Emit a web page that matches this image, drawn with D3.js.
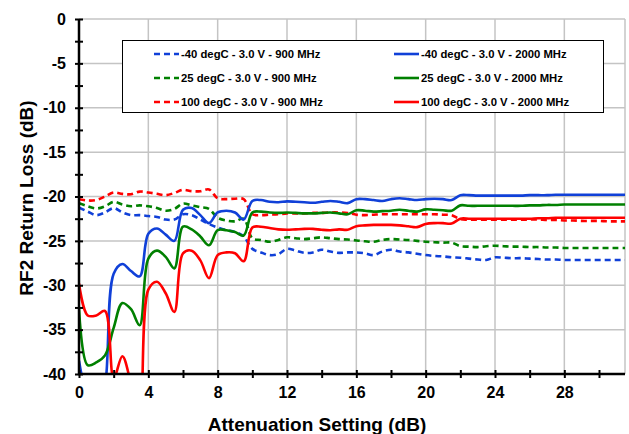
<!DOCTYPE html>
<html>
<head>
<meta charset="utf-8">
<script src="https://cdn.jsdelivr.net/npm/d3@7"></script>
<style>
  html, body { margin: 0; padding: 0; background: #fff; }
  svg { display: block; font-family: "Liberation Sans", Arial, sans-serif; font-weight: bold; }
</style>
</head>
<body>
<svg id="chart" width="629" height="434"></svg>
<script>
// ---- data ----
const attenuation = [0,0.5,1,1.5,2,2.5,3,3.5,4,4.5,5,5.5,6,6.5,7,7.5,8,8.5,9,9.5,
  10,10.5,11,11.5,12,12.5,13,13.5,14,14.5,15,15.5,16,16.5,17,17.5,18,18.5,19,19.5,
  20,20.5,21,21.5,22,22.5,23,23.5,24,24.5,25,25.5,26,26.5,27,27.5,28,28.5,29,29.5,
  30,30.5,31,31.5];

const m40_900 = [-21.25,-21.7,-22.1,-21.8,-21.3,-21.8,-22.1,-22.1,-22.2,-22.3,-22.6,-22.6,-22.0,-22.1,-22.6,-23.1,-23.5,-23.8,-24.0,-24.5,
  -25.9,-26.3,-26.6,-26.5,-25.9,-26.1,-26.35,-26.3,-26.0,-26.2,-26.35,-26.3,
  -26.3,-26.4,-26.6,-26.2,-26.0,-26.2,-26.3,-26.45,-26.6,-26.7,-26.75,-26.85,
  -26.9,-27.0,-27.1,-27.15,-26.85,-26.9,-26.95,-26.95,-27.0,-27.05,-27.1,-27.1,
  -27.15,-27.15,-27.15,-27.15,-27.15,-27.15,-27.15,-27.15];
const m40_2000 = [-38.5,-43,-45,-41.5,-28.7,-27.6,-28.4,-29.0,-24.2,-23.6,-24.3,-25.0,-21.5,-21.3,-22.1,-23.0,-21.8,-21.6,-21.8,-22.6,
  -20.5,-20.4,-20.6,-20.65,-20.55,-20.6,-20.65,-20.7,-20.6,-20.5,-20.6,-20.75,
  -20.3,-20.3,-20.4,-20.5,-20.3,-20.2,-20.3,-20.4,-20.3,-20.25,-20.3,-20.4,
  -19.85,-19.85,-19.9,-19.9,-19.9,-19.9,-19.9,-19.9,-19.85,-19.85,-19.85,-19.8,
  -19.8,-19.8,-19.8,-19.8,-19.8,-19.8,-19.8,-19.8];
const p25_900 = [-20.75,-21.1,-21.35,-21.1,-20.6,-20.9,-21.1,-21.0,-21.1,-21.3,-21.6,-21.4,-20.8,-21.0,-21.2,-21.4,-22.4,-22.7,-22.8,-22.5,
  -24.7,-24.9,-25.1,-24.9,-24.6,-24.7,-24.8,-24.7,-24.6,-24.7,-24.8,-24.85,
  -24.95,-25.05,-25.1,-24.9,-24.8,-24.85,-24.9,-25.0,-25.1,-25.15,-25.2,-25.2,
  -25.6,-25.65,-25.7,-25.6,-25.55,-25.6,-25.65,-25.65,-25.7,-25.7,-25.75,-25.75,
  -25.8,-25.8,-25.8,-25.8,-25.8,-25.8,-25.8,-25.8];
const p25_2000 = [-32.6,-39.0,-38.7,-37.9,-34.8,-32.0,-32.7,-34.5,-27.0,-26.1,-26.8,-28.1,-23.4,-23.7,-24.5,-25.5,-23.8,-23.8,-24.0,-24.4,
  -21.8,-21.7,-21.8,-21.85,-21.8,-21.85,-21.9,-21.9,-21.85,-21.8,-21.9,-22.0,
  -21.55,-21.6,-21.7,-21.65,-21.6,-21.5,-21.6,-21.7,-21.45,-21.5,-21.55,-21.6,
  -21.0,-21.05,-21.05,-21.05,-21.05,-21.05,-21.05,-21.05,-21.0,-21.0,-20.95,-20.95,
  -20.9,-20.9,-20.9,-20.9,-20.9,-20.9,-20.9,-20.9];
const p100_900 = [-20.3,-20.45,-20.4,-20.0,-19.55,-19.7,-19.75,-19.45,-19.55,-19.7,-19.85,-19.6,-19.25,-19.4,-19.4,-19.2,-20.2,-20.3,-20.25,-20.3,
  -22.0,-22.1,-22.05,-22.0,-21.9,-21.9,-21.9,-21.85,-21.85,-21.8,-21.8,-21.85,
  -22.05,-22.1,-22.05,-22.0,-22.0,-22.0,-22.0,-22.0,-22.0,-22.0,-22.05,-22.1,
  -22.55,-22.6,-22.6,-22.6,-22.6,-22.6,-22.6,-22.6,-22.6,-22.6,-22.65,-22.65,
  -22.7,-22.7,-22.75,-22.75,-22.75,-22.8,-22.8,-22.8];
const p100_2000 = [-29.8,-33.4,-33.4,-32.9,-40.5,-38.0,-41,-44,-30.5,-29.6,-30.9,-33.0,-26.4,-26.1,-27.2,-29.2,-26.6,-26.3,-26.4,-27.3,
  -23.5,-23.4,-23.55,-23.7,-23.75,-23.7,-23.65,-23.65,-23.75,-23.8,-23.7,-23.75,
  -23.35,-23.25,-23.2,-23.2,-23.2,-23.25,-23.35,-23.45,-23.1,-23.0,-23.0,-23.05,
  -22.5,-22.5,-22.5,-22.5,-22.5,-22.5,-22.5,-22.5,-22.5,-22.45,-22.45,-22.4,
  -22.4,-22.4,-22.4,-22.4,-22.4,-22.4,-22.4,-22.4];

const seriesNames = [
  "-40 degC - 3.0 V - 900 MHz", "-40 degC - 3.0 V - 2000 MHz",
  "25 degC - 3.0 V - 900 MHz", "25 degC - 3.0 V - 2000 MHz",
  "100 degC - 3.0 V - 900 MHz", "100 degC - 3.0 V - 2000 MHz"
];
const seriesValues = [m40_900, m40_2000, p25_900, p25_2000, p100_900, p100_2000];
const seriesColors = ["#1040d8", "#1040d8", "#008000", "#008000", "#ff0000", "#ff0000"];
const seriesDashed = [true, false, true, false, true, false];

const yTickValues = [0,-5,-10,-15,-20,-25,-30,-35,-40];
const yTickLabels = ["0","-5","-10","-15","-20","-25","-30","-35","-40"];
const yMinorTicks = [-2.5,-7.5,-12.5,-17.5,-22.5,-27.5,-32.5,-37.5];
const xTickValues = [0,4,8,12,16,20,24,28];
const xTickLabels = ["0","4","8","12","16","20","24","28"];
const xMinorTicks = [2,6,10,14,18,22,26,30];
const xDomain = [0, 31.5];
const yDomain = [-40, 0];

// ---- layout ----
const svg = d3.select("#chart");
const L = 79, R = 625, T = 19, B = 374;
const x = d3.scaleLinear().domain(xDomain).range([L, R]);
const y = d3.scaleLinear().domain(yDomain).range([B, T]);

// gridlines
const grid = svg.append("g").attr("stroke", "#c4c4c4").attr("stroke-width", 1.5);
grid.selectAll("line.h").data(yTickValues.filter(v => v > -40)).enter().append("line")
  .attr("x1", L).attr("x2", R).attr("y1", d => y(d)).attr("y2", d => y(d));
grid.selectAll("line.v").data(xTickValues.filter(v => v > 0)).enter().append("line")
  .attr("x1", d => x(d)).attr("x2", d => x(d)).attr("y1", T).attr("y2", B);
grid.append("line").attr("x1", R).attr("x2", R).attr("y1", T).attr("y2", B);

// clip
svg.append("clipPath").attr("id", "clip").append("rect")
  .attr("x", L).attr("y", T - 2).attr("width", R - L).attr("height", B - T + 2);

const line = d3.line().curve(d3.curveCatmullRom.alpha(0.5));
const plot = svg.append("g").attr("clip-path", "url(#clip)");
const order = [0, 2, 4, 1, 3, 5];
order.forEach(i => {
  plot.append("path")
    .attr("d", line(attenuation.map((a, k) => [x(a), y(seriesValues[i][k])])))
    .attr("fill", "none")
    .attr("stroke", seriesColors[i])
    .attr("stroke-width", 2.6)
    .attr("stroke-linejoin", "round")
    .attr("stroke-dasharray", seriesDashed[i] ? "6,4" : null);
});

// axes
const yAxisOut = d3.axisLeft(y).tickValues(yTickValues.concat(yMinorTicks))
  .tickSize(4).tickPadding(9)
  .tickFormat(d => { const k = yTickValues.indexOf(d); return k >= 0 ? yTickLabels[k] : ""; });
const yAxisIn = d3.axisLeft(y).tickValues(yTickValues.concat(yMinorTicks)).tickSize(-4).tickFormat("");
const xAxisOut = d3.axisBottom(x).tickValues(xTickValues.concat(xMinorTicks))
  .tickSize(4).tickPadding(9)
  .tickFormat(d => { const k = xTickValues.indexOf(d); return k >= 0 ? xTickLabels[k] : ""; });
const xAxisIn = d3.axisBottom(x).tickValues(xTickValues.concat(xMinorTicks)).tickSize(-4).tickFormat("");

function styleAxis(g) {
  g.select(".domain").remove();
  g.selectAll(".tick line").attr("stroke", "#000").attr("stroke-width", 2);
  g.selectAll(".tick text").attr("fill", "#000").style("font-size", "16px")
    .style("font-weight", "bold").style("font-family", "'Liberation Sans', Arial, sans-serif");
}
svg.append("g").attr("transform", `translate(${L},0)`).call(yAxisOut).call(styleAxis);
svg.append("g").attr("transform", `translate(${L},0)`).call(yAxisIn).call(styleAxis);
svg.append("g").attr("transform", `translate(0,${B})`).call(xAxisOut).call(styleAxis);
svg.append("g").attr("transform", `translate(0,${B})`).call(xAxisIn).call(styleAxis);

svg.append("line").attr("x1", L).attr("x2", L).attr("y1", T).attr("y2", B + 1)
  .attr("stroke", "#000").attr("stroke-width", 2.5);
svg.append("line").attr("x1", L - 1).attr("x2", R).attr("y1", B).attr("y2", B)
  .attr("stroke", "#000").attr("stroke-width", 2.5);

// axis titles
svg.append("text").attr("x", 317).attr("y", 431).attr("text-anchor", "middle")
  .style("font-size", "19px").text("Attenuation Setting (dB)");
svg.append("text").attr("transform", `translate(33,198) rotate(-90)`)
  .attr("text-anchor", "middle").style("font-size", "19px").text("RF2 Return Loss (dB)");

// legend
const lg = svg.append("g");
lg.append("rect").attr("x", 122.5).attr("y", 40.5).attr("width", 481).attr("height", 72)
  .attr("fill", "#fff").attr("stroke", "#000").attr("stroke-width", 1);
seriesNames.forEach((name, i) => {
  const col = i % 2, row = Math.floor(i / 2);
  const lx = col === 0 ? 154 : 394;
  const ly = 54 + row * 24;
  lg.append("line").attr("x1", lx).attr("x2", lx + 25).attr("y1", ly).attr("y2", ly)
    .attr("stroke", seriesColors[i]).attr("stroke-width", 2.6)
    .attr("stroke-dasharray", seriesDashed[i] ? "6,4" : null);
  lg.append("text").attr("x", lx + 27).attr("y", ly).attr("dy", "0.35em")
    .style("font-size", "11.3px").text(name);
});
</script>
</body>
</html>
